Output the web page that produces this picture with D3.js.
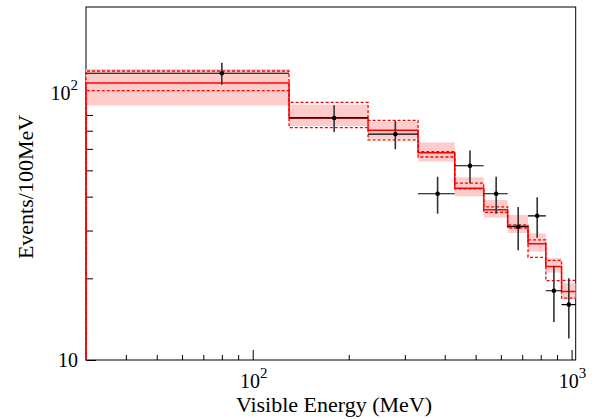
<!DOCTYPE html>
<html>
<head>
<meta charset="utf-8">
<script src="https://cdn.jsdelivr.net/npm/d3@7"></script>
<style>
  body { margin: 0; background: #fff; }
  text { font-family: "Liberation Serif", "DejaVu Serif", serif; fill: #000; }
</style>
</head>
<body>
<script>
// visible energy spectrum, data vs MC with error bands

// bin edges (MeV)
var binEdges = [30, 130, 230, 330, 430, 530, 630, 730, 830, 930, 1030];

// data points
var dataX = [80, 180, 280, 380, 480, 580, 680, 780, 880, 980];
var dataY = [114, 78, 68, 41, 52, 41, 31, 34, 18, 16];
var dataErr = [10.7, 8.8, 8.2, 6.4, 7.2, 6.4, 5.6, 5.8, 4.2, 4.0];

// MC prediction (solid) and its band (pink)
var mcCentral = [105, 78, 70.2, 58.1, 43, 35.8, 31.1, 26.8, 22.1, 17.9];
var bandHigh = [118.2, 87.3, 75.4, 63.4, 47.1, 38.9, 34.3, 29.3, 23.7, 19.2];
var bandLow = [86.8, 72.7, 65.4, 53.9, 40.1, 33.5, 29.4, 25.1, 21.0, 16.8];

// second band (dashed outline)
var dashHigh = [116.2, 89.0, 76.4, 58.6, 44.9, 36.7, 31.5, 27.7, 23.3, 19.65];
var dashLow = [98.3, 71.9, 64.8, 56.0, 42.7, 35.0, 30.6, 23.9, 19.6, 16.9];

// ticks
var xMajor = [100, 1000];
var xMinor = [40, 50, 60, 70, 80, 90, 200, 300, 400, 500, 600, 700, 800, 900];
var yMajor = [10, 100];
var yMinor = [20, 30, 40, 50, 60, 70, 80, 90];
var xLabels = [{v: 100, e: "2"}, {v: 1000, e: "3"}];
var yLabels = [{v: 10, e: ""}, {v: 100, e: "2"}];

var w = 599, h = 419;
var pLeft = 86, pRight = 575.7, pTop = 7, pBottom = 360;

var svg = d3.select("body").append("svg")
    .attr("width", w)
    .attr("height", h);

var x = d3.scaleLog().domain([30, 1030]).range([pLeft, pRight]);
var y = d3.scaleLog().domain([10, 200]).range([pBottom, pTop]);

var bins = d3.range(dataX.length);

// axes (ticks inward)
function tickAxis(axisFn, scale, vals, size, tx, ty) {
    var g = svg.append("g")
        .attr("transform", "translate(" + tx + "," + ty + ")")
        .call(axisFn(scale).tickValues(vals).tickSize(size).tickFormat(""));
    g.select(".domain").remove();
    g.selectAll("line").attr("stroke", "#000").attr("stroke-width", 1);
}
tickAxis(d3.axisBottom, x, xMajor, -10, 0, pBottom);
tickAxis(d3.axisBottom, x, xMinor, -5, 0, pBottom);
tickAxis(d3.axisLeft, y, yMajor, -10, pLeft, 0);
tickAxis(d3.axisLeft, y, yMinor, -7, pLeft, 0);

// frame
svg.append("rect")
    .attr("x", pLeft)
    .attr("y", pTop)
    .attr("width", pRight - pLeft)
    .attr("height", pBottom - pTop)
    .attr("fill", "none")
    .attr("stroke", "#000")
    .attr("stroke-width", 1);

// tick labels
var xl = svg.selectAll(".xlab")
    .data(xLabels)
    .enter()
    .append("text")
    .attr("class", "xlab")
    .attr("x", function(d) { return x(d.v) + 1; })
    .attr("y", 388)
    .attr("text-anchor", "middle")
    .style("font-size", "20px");
xl.append("tspan").text("10");
xl.append("tspan").attr("dy", -10).style("font-size", "15px").text(function(d) { return d.e; });

var yl = svg.selectAll(".ylab")
    .data(yLabels)
    .enter()
    .append("text")
    .attr("class", "ylab")
    .attr("x", 78)
    .attr("y", function(d) { return y(d.v) + (d.e ? 11 : 6.5); })
    .attr("text-anchor", "end")
    .style("font-size", "20px");
yl.append("tspan").text("10");
yl.append("tspan").attr("dy", -10).style("font-size", "15px").text(function(d) { return d.e; });

// axis titles
svg.append("text")
    .attr("x", 334)
    .attr("y", 412)
    .attr("text-anchor", "middle")
    .style("font-size", "22px")
    .text("Visible Energy (MeV)");

svg.append("text")
    .attr("transform", "translate(33,187) rotate(-90)")
    .attr("text-anchor", "middle")
    .style("font-size", "22px")
    .text("Events/100MeV");

var plot = svg.append("g");

svg.append("clipPath").attr("id", "clip")
    .append("rect")
    .attr("x", pLeft - 2).attr("y", pTop)
    .attr("width", pRight - pLeft + 2).attr("height", pBottom - pTop);
plot.attr("clip-path", "url(#clip)");

// pink band boxes
plot.selectAll(".band")
    .data(bins)
    .enter()
    .append("rect")
    .attr("class", "band")
    .attr("x", function(i) { return x(binEdges[i]); })
    .attr("width", function(i) { return x(binEdges[i + 1]) - x(binEdges[i]); })
    .attr("y", function(i) { return y(bandHigh[i]); })
    .attr("height", function(i) { return y(bandLow[i]) - y(bandHigh[i]); })
    .attr("fill", "#ffcccc");

// step histogram path from a value array
function stepPath(vals) {
    var p = "M" + x(binEdges[0]) + "," + pBottom;
    vals.forEach(function(v, i) {
        p += "L" + x(binEdges[i]) + "," + y(v);
        p += "L" + x(binEdges[i + 1]) + "," + y(v);
    });
    return p;
}

[dashHigh, dashLow].forEach(function(vals) {
    plot.append("path")
        .attr("d", stepPath(vals))
        .attr("fill", "none")
        .attr("stroke", "#ff0000")
        .attr("stroke-width", 1.3)
        .attr("stroke-dasharray", "3,2");
});

plot.append("path")
    .attr("d", stepPath(mcCentral))
    .attr("fill", "none")
    .attr("stroke", "#ff0000")
    .attr("stroke-width", 1.5);

// data points with errors
plot.selectAll(".xerr")
    .data(bins)
    .enter()
    .append("line")
    .attr("class", "xerr")
    .attr("x1", function(i) { return x(binEdges[i]); })
    .attr("x2", function(i) { return x(binEdges[i + 1]); })
    .attr("y1", function(i) { return y(dataY[i]); })
    .attr("y2", function(i) { return y(dataY[i]); })
    .attr("stroke", "#000")
    .attr("stroke-width", 1.2);

plot.selectAll(".yerr")
    .data(bins)
    .enter()
    .append("line")
    .attr("class", "yerr")
    .attr("x1", function(i) { return x(dataX[i]); })
    .attr("x2", function(i) { return x(dataX[i]); })
    .attr("y1", function(i) { return y(dataY[i] + dataErr[i]); })
    .attr("y2", function(i) { return y(dataY[i] - dataErr[i]); })
    .attr("stroke", "#333")
    .attr("stroke-width", 1.6);

plot.selectAll(".pt")
    .data(bins)
    .enter()
    .append("circle")
    .attr("class", "pt")
    .attr("cx", function(i) { return x(dataX[i]); })
    .attr("cy", function(i) { return y(dataY[i]); })
    .attr("r", 2.3)
    .attr("fill", "#000");
</script>
</body>
</html>
